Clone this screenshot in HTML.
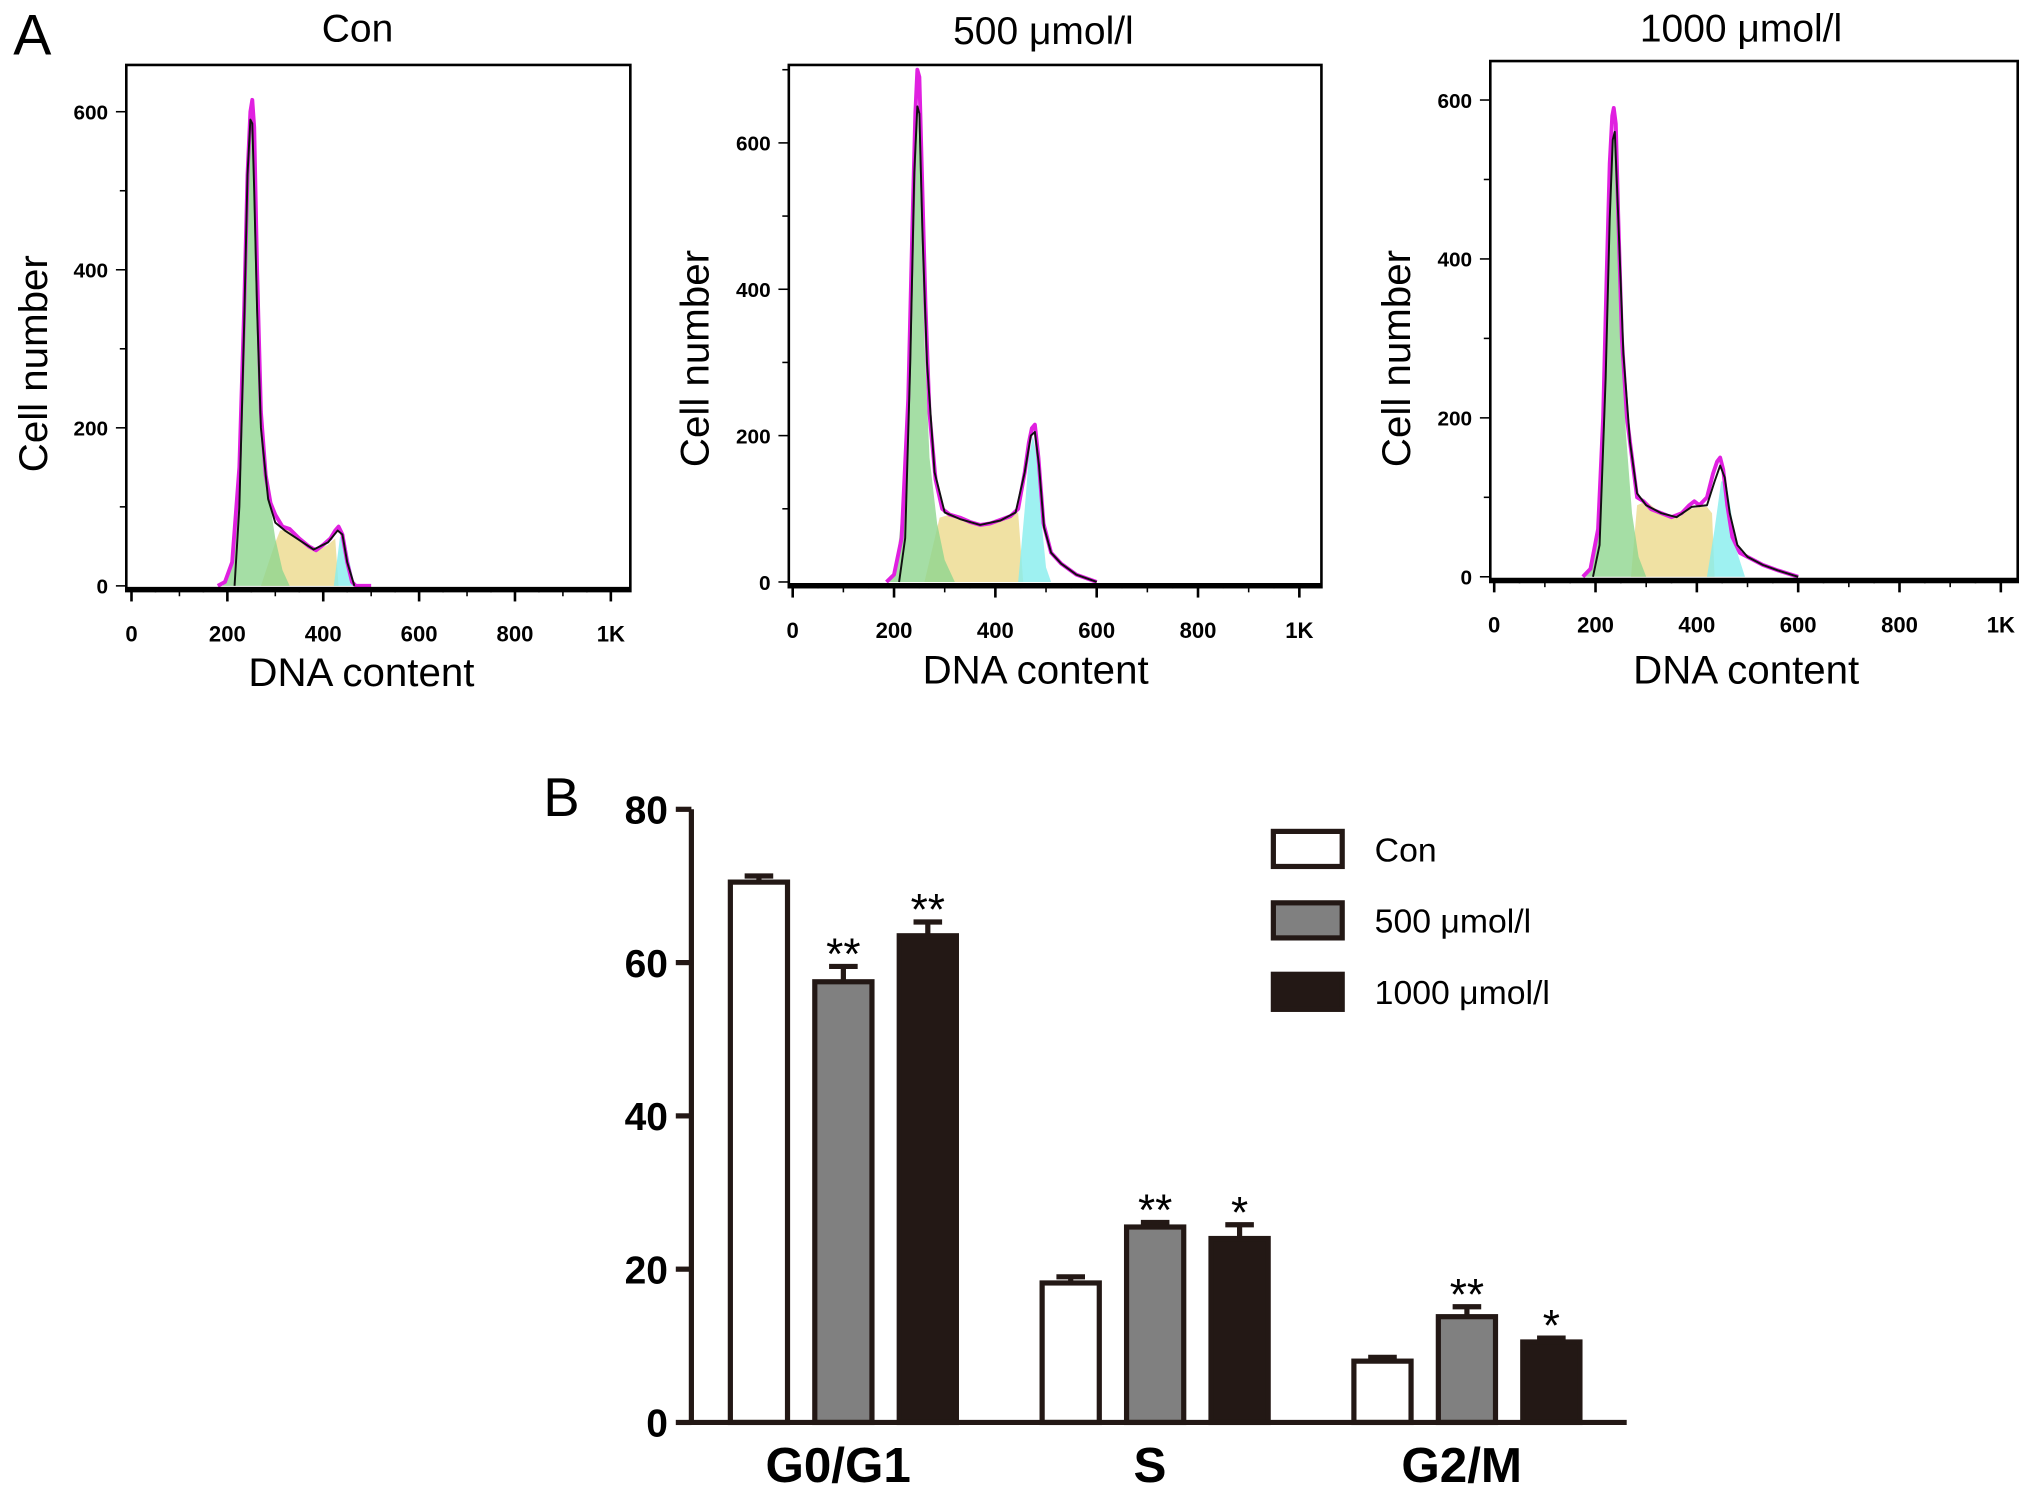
<!DOCTYPE html>
<html><head><meta charset="utf-8"><style>
html,body{margin:0;padding:0;background:#fff}
svg{display:block}
text{font-family:"Liberation Sans",Arial,sans-serif}
</style></head><body>
<svg id="fig" width="2031" height="1503" viewBox="0 0 1563 1157" xmlns="http://www.w3.org/2000/svg">
<rect width="1563" height="1157" fill="#fff"/>
<text x="10" y="42" font-size="44">A</text>
<text x="418" y="628" font-size="42">B</text>
<g id="hists"></g>
<g id="bars"></g>
</svg>
<script>
// ---------- Panel A data ----------
const histTitles = ["Con", "500 μmol/l", "1000 μmol/l"];
const xTickLabels = ["0","200","400","600","800","1K"];
const yTickVals = [0,200,400,600];
// Con
const conOutlineX = [180,195,210,225,235,242,248,252,256,262,270,280,290,300,315,330,350,370,385,400,415,425,432,440,450,460,468,500];
const conOutlineY = [0,5,30,150,350,520,600,615,580,400,220,140,105,90,75,72,60,50,45,52,60,70,75,65,30,5,0,0];
const conG1X = [190,205,220,235,245,252,260,270,285,300,315,330];
const conG1Y = [0,20,120,380,560,600,420,230,120,60,20,0];
const conSX = [270,300,310,330,350,370,390,410,425,432];
const conSY = [0,55,70,72,60,50,45,52,60,0];
const conG2X = [422,435,445,455,466];
const conG2Y = [0,62,60,30,0];
const conFitX = [215,225,235,242,248,252,256,262,270,285,300,320,350,380,410,430,440,450,465];
const conFitY = [0,100,330,520,590,585,500,350,200,110,80,70,58,46,55,70,65,30,0];
// 500
const m5OutlineX = [185,200,215,228,236,242,246,250,255,262,270,282,295,310,330,350,370,390,410,430,445,458,466,472,478,485,495,510,530,560,600];
const m5OutlineY = [0,10,60,250,480,640,700,690,560,380,230,140,100,92,88,82,78,80,85,90,100,150,190,210,215,170,80,40,25,10,0];
const m5G1X = [190,205,220,232,240,246,252,260,270,285,300,320];
const m5G1Y = [0,25,130,380,580,650,560,330,170,80,30,0];
const m5SX = [260,290,310,330,350,370,390,410,430,445,455];
const m5SY = [0,88,92,88,82,78,80,85,90,95,0];
const m5G2X = [445,458,466,474,482,490,500,510];
const m5G2Y = [0,100,170,200,170,90,20,0];
const m5FitX = [210,222,232,240,246,250,256,265,280,300,330,370,410,440,458,470,478,486,496,510,530,560,600];
const m5FitY = [0,60,300,560,650,640,480,300,150,95,86,78,84,95,150,200,205,160,75,40,25,10,0];
// 1000
const m10OutlineX = [175,190,205,215,222,228,233,236,240,245,252,262,272,282,295,310,330,350,370,385,395,405,420,432,440,446,452,460,470,485,500,530,560,600];
const m10OutlineY = [0,10,60,200,380,520,580,590,570,450,300,200,150,100,95,85,80,75,80,90,95,90,100,130,145,150,135,90,50,30,25,15,8,0];
const m10G1X = [180,195,210,222,230,236,242,250,260,272,285,300];
const m10G1Y = [0,15,110,340,500,555,500,330,180,80,25,0];
const m10SX = [270,282,300,320,345,365,385,405,420,430,435];
const m10SY = [0,90,95,85,78,75,85,88,88,80,0];
const m10G2X = [420,435,448,458,468,480,495];
const m10G2Y = [0,60,120,120,80,30,0];
const m10FitX = [195,208,220,228,234,238,245,255,268,282,300,330,360,390,420,435,446,455,465,480,500,530,560,600];
const m10FitY = [0,40,250,450,550,560,450,280,170,105,90,80,75,88,90,120,140,125,80,40,25,15,8,0];

const histSets = [
  {o:[conOutlineX,conOutlineY], g1:[conG1X,conG1Y], s:[conSX,conSY], g2:[conG2X,conG2Y], f:[conFitX,conFitY]},
  {o:[m5OutlineX,m5OutlineY], g1:[m5G1X,m5G1Y], s:[m5SX,m5SY], g2:[m5G2X,m5G2Y], f:[m5FitX,m5FitY]},
  {o:[m10OutlineX,m10OutlineY], g1:[m10G1X,m10G1Y], s:[m10SX,m10SY], g2:[m10G2X,m10G2Y], f:[m10FitX,m10FitY]}
];
// geometry (pixels)
const geo = [
  {L:97,R:485,T:50,B:455,x0:101,x1:470,y0:451,y6:86,tx:275,ty:32,ly:280,lx:36,xl:278,xly:528},
  {L:607,R:1017,T:50,B:452,x0:610,x1:1000,y0:448,y6:110,tx:803,ty:34,ly:276,lx:545,xl:797,xly:526},
  {L:1147,R:1553,T:47,B:448,x0:1150,x1:1540,y0:444,y6:77,tx:1340,ty:32,ly:276,lx:1085,xl:1344,xly:526}
];
const NS="http://www.w3.org/2000/svg";
function mk(tag, attrs, parent){const e=document.createElementNS(NS,tag);for(const k in attrs)e.setAttribute(k,attrs[k]);parent.appendChild(e);return e;}
const H=document.getElementById('hists');
histSets.forEach((d,i)=>{
  const g=geo[i];
  const sx=v=>g.x0+v*(g.x1-g.x0)/1000;
  const sy=v=>g.y0-v*(g.y0-g.y6)/600;
  const grp=mk('g',{},H);
  
  
  const t=mk('text',{x:g.tx,y:g.ty,'font-size':30,'text-anchor':'middle'},grp);t.textContent=histTitles[i];
  
  
  const area=(arr,fill,name)=>{
    let p='M'+sx(arr[0][0])+','+sy(0);
    arr[0].forEach((x,j)=>p+=' L'+sx(x)+','+sy(arr[1][j]));
    p+=' L'+sx(arr[0][arr[0].length-1])+','+sy(0)+'Z';
    const e=mk('path',{d:p,fill:fill,'fill-opacity':0.8},grp);
    
    
  };
  const line=(arr,stroke,w,name)=>{
    let p='';arr[0].forEach((x,j)=>p+=(j?' L':'M')+sx(x)+','+sy(arr[1][j]));
    const e=mk('path',{d:p,fill:'none',stroke:stroke,'stroke-width':w,'stroke-linejoin':'round'},grp);
    
    
  };
  area(d.s,'#ecd98c','s-phase-fill');
  area(d.g1,'#8ed68e','g1-phase-fill');
  area(d.g2,'#86eeee','g2-phase-fill');
  line(d.o,'#e020e0',3,'histogram-outline');
  line(d.f,'#111',1.5,'model-fit-line');
  const box=mk('rect',{x:g.L,y:g.T,width:g.R-g.L,height:g.B-g.T,fill:'none',stroke:'#000','stroke-width':2},grp);
  
  
  mk('line',{x1:g.L,y1:g.y0+2,x2:g.R,y2:g.y0+2,stroke:'#000','stroke-width':2.5},grp);
  for(let v=0;v<=1000;v+=50){
    const big=v%200===0||v===1000;
    mk('line',{x1:sx(v),y1:g.y0+3,x2:sx(v),y2:g.y0+(big?12:(v%100===0?8:5)),stroke:'#000','stroke-width':big?2:1.2},grp);
  }
  xTickLabels.forEach((lab,j)=>{
    const v=j===5?1000:j*200;
    const e=mk('text',{x:sx(v),y:g.y0+43,'font-size':17,'font-weight':'bold','text-anchor':'middle'},grp);e.textContent=lab;
    
    
  });
  for(let v=0;v<=700;v+=100){
    const y=sy(v); if(y<g.T)continue;
    mk('line',{x1:g.L-(v%200===0?8:5),y1:y,x2:g.L,y2:y,stroke:'#000','stroke-width':1.2},grp);
  }
  yTickVals.forEach(v=>{
    const e=mk('text',{x:g.L-14,y:sy(v)+6,'font-size':16,'font-weight':'bold','text-anchor':'end'},grp);e.textContent=v;
    
    
  });
  const yl=mk('text',{x:g.lx,y:g.ly,'font-size':31,'text-anchor':'middle',transform:'rotate(-90 '+g.lx+' '+g.ly+')'},grp);yl.textContent='Cell number';
  
  
  const xl=mk('text',{x:g.xl,y:g.xly,'font-size':31,'text-anchor':'middle'},grp);xl.textContent='DNA content';
  
  
});

// ---------- Panel B data ----------
const phases = ["G0/G1","S","G2/M"];
const groups = ["Con","500 μmol/l","1000 μmol/l"];
const conVals = [70.5,18.2,8.0];
const m500Vals = [57.5,25.5,13.8];
const m1000Vals = [63.5,24.0,10.5];
const conErr = [0.8,0.8,0.5];
const m500Err = [2.0,0.6,1.3];
const m1000Err = [1.8,1.8,0.5];
const m500Sig = ["**","**","**"];
const m1000Sig = ["**","*","*"];
const barYTicks = [0,20,40,60,80];

const B=document.getElementById('bars');
const ax={x0:532,x1:1252,y0:1095,y80:623};
const by=v=>ax.y0-v*(ax.y0-ax.y80)/80;
const catCenter=i=>649+i*240;
const fills=['#fff','#808080','#231815'];
const series=[[conVals,conErr,null],[m500Vals,m500Err,m500Sig],[m1000Vals,m1000Err,m1000Sig]];
series.forEach((s,k)=>{
  s[0].forEach((v,i)=>{
    const cx=catCenter(i)+(k-1)*65, w=44;
    const top=by(v+s[1][i]);
    const eb=mk('path',{d:`M${cx},${by(v)} L${cx},${top} M${cx-11},${top} L${cx+11},${top}`,stroke:'#231815','stroke-width':4,fill:'none'},B);
    
    
    const r=mk('rect',{x:cx-w/2,y:by(v),width:w,height:ax.y0-by(v),fill:fills[k],stroke:'#231815','stroke-width':4},B);
    
    
    if(s[2]){
      const t=mk('text',{x:cx,y:top+2,'font-size':34,'text-anchor':'middle'},B);t.textContent=s[2][i];
      
      
    }
  });
});
mk('line',{x1:ax.x0,y1:by(80),x2:ax.x0,y2:ax.y0,stroke:'#231815','stroke-width':4},B);
mk('line',{x1:ax.x0-2,y1:ax.y0,x2:ax.x1,y2:ax.y0,stroke:'#231815','stroke-width':4},B);
barYTicks.forEach(v=>{
  mk('line',{x1:ax.x0-12,y1:by(v),x2:ax.x0,y2:by(v),stroke:'#231815','stroke-width':4},B);
  const t=mk('text',{x:ax.x0-18,y:by(v)+11,'font-size':30,'font-weight':'bold','text-anchor':'end'},B);t.textContent=v;
  
  
});
phases.forEach((p,i)=>{
  const t=mk('text',{x:catCenter(i)-4,y:1141,'font-size':38,'font-weight':'bold','text-anchor':'middle'},B);t.textContent=p;
  
  
});
groups.forEach((gname,k)=>{
  const y=640+k*55;
  const r=mk('rect',{x:980,y:y,width:53,height:27,fill:fills[k],stroke:'#231815','stroke-width':4},B);
  
  
  const t=mk('text',{x:1058,y:y+23,'font-size':26},B);t.textContent=gname;
  
  
});
</script>
</body></html>
